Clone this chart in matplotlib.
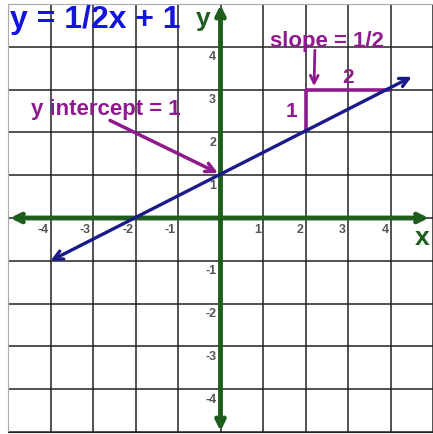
import numpy as np
import matplotlib
matplotlib.use('Agg')
import matplotlib.pyplot as plt

plt.rcParams['font.family'] = ['Liberation Sans', 'DejaVu Sans']

# data
grid_x = [-5, -4, -3, -2, -1, 0, 1, 2, 3, 4, 5]
grid_y = [-5, -4, -3, -2, -1, 0, 1, 2, 3, 4, 5]
tick_vals = [-4, -3, -2, -1, 1, 2, 3, 4]
tick_labels = ['-4', '-3', '-2', '-1', '1', '2', '3', '4']
line_x = [-4.0, 4.5]
line_y = [-1.0, 3.3]
rise_x = [2, 2, 4]
rise_y = [2, 3, 3]

green = '#1d5e1d'
navy = '#1a1a8a'
purple = '#8e1a8e'
titleblue = '#1414e0'
gray = '#555555'

fig = plt.figure(figsize=(4.33, 4.35), dpi=100)
ax = fig.add_axes([8/433, 2/435, 425/433, 428/435])
ax.set_xlim(-5, 4.93)
ax.set_ylim(-5, 5)
ax.set_xticks(grid_x)
ax.set_yticks(grid_y)
ax.tick_params(length=0, labelbottom=False, labelleft=False)
ax.grid(True, color='#222222', lw=1.1)
for s in ['left', 'top']:
    ax.spines[s].set_color('#aaaaaa')
ax.spines['right'].set_visible(False)
ax.spines['bottom'].set_color('#222222')

# axes with arrows
ax.annotate('', xy=(4.9, 0), xytext=(-4.95, 0),
            arrowprops=dict(arrowstyle='<->', color=green, lw=3.5,
                            mutation_scale=14, shrinkA=0, shrinkB=0))
ax.annotate('', xy=(0, 4.98), xytext=(0, -4.98),
            arrowprops=dict(arrowstyle='<->', color=green, lw=3.5,
                            mutation_scale=14, shrinkA=0, shrinkB=0))

# tick labels
for v, t in zip(tick_vals, tick_labels):
    ax.text(v - 0.05, -0.12, t, ha='right', va='top', fontsize=9,
            fontweight='bold', color=gray)
    ax.text(-0.1, v - 0.08, t, ha='right', va='top', fontsize=9,
            fontweight='bold', color=gray)

ax.text(4.75, -0.45, 'x', ha='center', va='center', fontsize=19,
        fontweight='bold', color=green)
ax.text(-0.4, 4.68, 'y', ha='center', va='center', fontsize=19,
        fontweight='bold', color=green)

# the line
ax.annotate('', xy=(line_x[1], line_y[1]), xytext=(line_x[0], line_y[0]),
            arrowprops=dict(arrowstyle='<->', color=navy, lw=2.4,
                            mutation_scale=16, shrinkA=0, shrinkB=0))

# slope triangle
ax.plot(rise_x, rise_y, color=purple, lw=2.6, solid_capstyle='butt')
ax.text(1.68, 2.52, '1', ha='center', va='center', fontsize=15,
        fontweight='bold', color=purple)
ax.text(3.0, 3.3, '2', ha='center', va='center', fontsize=15,
        fontweight='bold', color=purple)
ax.text(2.5, 4.15, 'slope = 1/2', ha='center', va='center', fontsize=16,
        fontweight='bold', color=purple)
ax.annotate('', xy=(2.2, 3.08), xytext=(2.22, 3.92),
            arrowprops=dict(arrowstyle='->', color=purple, lw=2,
                            mutation_scale=14, shrinkA=0, shrinkB=0))

# y intercept
ax.text(-2.7, 2.57, 'y intercept = 1', ha='center', va='center', fontsize=16,
        fontweight='bold', color=purple)
ax.annotate('', xy=(-0.06, 1.05), xytext=(-2.6, 2.28),
            arrowprops=dict(arrowstyle='->', color=purple, lw=2.5,
                            mutation_scale=16, shrinkA=0, shrinkB=0))

# title
ax.text(-4.95, 4.66, 'y = 1/2x + 1', ha='left', va='center', fontsize=23,
        fontweight='bold', color=titleblue)

fig.savefig('out.png', dpi=100)
